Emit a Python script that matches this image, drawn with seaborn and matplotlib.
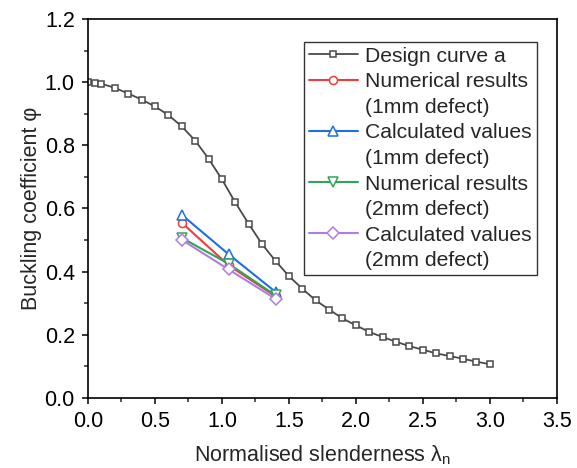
import numpy as np
import pandas as pd
import matplotlib
matplotlib.use("Agg")
import matplotlib.pyplot as plt
import seaborn as sns
from matplotlib.lines import Line2D
from matplotlib.ticker import MultipleLocator, FormatStrFormatter

# Design curve a
curve_x = [0, 0.05, 0.1, 0.2, 0.3, 0.4, 0.5, 0.6, 0.7, 0.8, 0.9, 1.0, 1.1, 1.2, 1.3, 1.4,
           1.5, 1.6, 1.7, 1.8, 1.9, 2.0, 2.1, 2.2, 2.3, 2.4, 2.5, 2.6, 2.7, 2.8, 2.9, 3.0]
curve_y = [1.000, 0.998, 0.995, 0.982, 0.964, 0.945, 0.923, 0.896, 0.860, 0.815, 0.758, 0.692,
           0.619, 0.551, 0.487, 0.434, 0.386, 0.346, 0.309, 0.280, 0.252, 0.230, 0.209,
           0.193, 0.178, 0.164, 0.153, 0.141, 0.133, 0.124, 0.115, 0.107]

lam = [0.7, 1.05, 1.4]
num_1mm = [0.555, 0.420, 0.322]
calc_1mm = [0.580, 0.455, 0.336]
num_2mm = [0.507, 0.425, 0.325]
calc_2mm = [0.501, 0.407, 0.314]

labels = ["Design curve a", "Numerical results\n(1mm defect)", "Calculated values\n(1mm defect)",
          "Numerical results\n(2mm defect)", "Calculated values\n(2mm defect)"]

sns.set_style("ticks")
plt.rcParams['font.family'] = ['Liberation Sans', 'DejaVu Sans']
plt.rcParams['mathtext.fontset'] = 'custom'
plt.rcParams['mathtext.rm'] = 'Liberation Sans'

fig = plt.figure(figsize=(5.77, 4.68), dpi=100)
ax = fig.add_axes([0.1525, 0.1496, 0.8125, 0.8098])

sns.lineplot(x=curve_x, y=curve_y, ax=ax, color="#4a4a4a", lw=1.3, marker="s", ms=5,
             markerfacecolor="white", markeredgecolor="#4a4a4a", markeredgewidth=1.1,
             label=labels[0])
series = [(num_1mm, "#f03c3c", "o", 5.8, labels[1]),
          (calc_1mm, "#1f6fdc", "^", 6.8, labels[2]),
          (num_2mm, "#33a35a", "v", 6.8, labels[3]),
          (calc_2mm, "#b07de0", "D", 6.0, labels[4])]
for ys, col, mk, ms, lab in series:
    sns.lineplot(x=lam, y=ys, ax=ax, color=col, lw=1.5, marker=mk, ms=ms,
                 markerfacecolor="white", markeredgecolor=col, markeredgewidth=1.1, label=lab)

ax.set_xlim(0, 3.5)
ax.set_ylim(0, 1.2)
ax.xaxis.set_major_locator(MultipleLocator(0.5))
ax.xaxis.set_minor_locator(MultipleLocator(0.25))
ax.yaxis.set_major_locator(MultipleLocator(0.2))
ax.yaxis.set_minor_locator(MultipleLocator(0.1))
ax.xaxis.set_major_formatter(FormatStrFormatter('%.1f'))
ax.yaxis.set_major_formatter(FormatStrFormatter('%.1f'))
ax.tick_params(which='major', direction='out', length=4.5, width=1.1, labelsize=15.5,
               colors='black', pad=5)
ax.tick_params(which='minor', direction='out', length=3, width=1.1)
ax.tick_params(top=False, right=False, which='both')
for s in ax.spines.values():
    s.set_visible(True)
    s.set_linewidth(1.2)
    s.set_color('black')

ax.set_xlabel("Normalised slenderness λ$_\\mathregular{n}$", fontsize=15.5, labelpad=8)
ax.set_ylabel("Buckling coefficient φ", fontsize=15.5, labelpad=1.5)

# legend: handle aligned with the first line of each label
handles, labs = ax.get_legend_handles_labels()
new_h, new_l = [], []
for h, l in zip(handles, labs):
    parts = l.split("\n")
    new_h.append(h)
    new_l.append(parts[0])
    for p in parts[1:]:
        new_h.append(Line2D([], [], color='none'))
        new_l.append(p)

leg = ax.legend(new_h, new_l, loc='upper right', bbox_to_anchor=(0.9575, 0.9405), fontsize=15.2,
                frameon=True, fancybox=False, edgecolor='black', handlelength=2.3,
                handletextpad=0.35, borderpad=0.25, labelspacing=0.31, borderaxespad=0.0)
leg.get_frame().set_linewidth(1.0)

fig.savefig("out.png", dpi=100)
